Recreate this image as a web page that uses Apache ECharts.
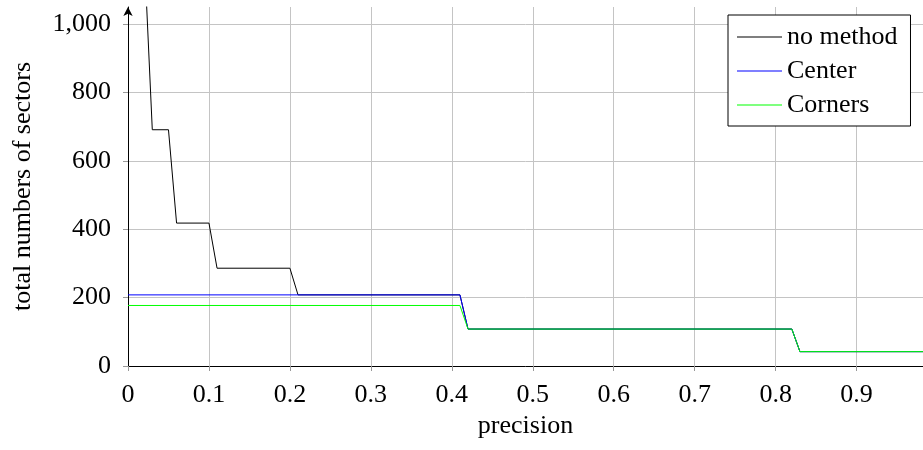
<!DOCTYPE html>
<html>
<head>
<meta charset="utf-8">
<script src="https://cdn.jsdelivr.net/npm/echarts@6/dist/echarts.min.js"></script>
<style>
  html, body { margin: 0; padding: 0; background: #fff; }
  #chart { width: 923px; height: 450px; }
</style>
</head>
<body>
<div id="chart"></div>
<script>
// ---- data ----
var seriesNames = ['no method', 'Center', 'Corners'];

// step corner points: precision values and total numbers of sectors
var noMethodX = [0.02, 0.03, 0.05, 0.06, 0.10, 0.11, 0.20, 0.21, 0.41, 0.42, 0.82, 0.83, 0.99];
var noMethodY = [1210, 691, 691, 418, 418, 286, 286, 208, 208, 108, 108, 42, 42];

var centerX = [0.00, 0.41, 0.42, 0.82, 0.83, 0.99];
var centerY = [208, 208, 108, 108, 42, 42];

var cornersX = [0.00, 0.41, 0.42, 0.82, 0.83, 0.99];
var cornersY = [177, 177, 108, 108, 42, 42];

var xTicks = [0, 0.1, 0.2, 0.3, 0.4, 0.5, 0.6, 0.7, 0.8, 0.9];
var yTicks = [0, 200, 400, 600, 800, 1000];

function pairs(xs, ys) {
  return xs.map(function (x, i) { return [x, ys[i]]; });
}

var FONT = '"Liberation Serif", "DejaVu Serif", serif';
var chart = echarts.init(document.getElementById('chart'), null, { renderer: 'canvas' });

chart.setOption({
  animation: false,
  backgroundColor: '#ffffff',
  grid: { left: 128, right: 0, top: 7, bottom: 84, containLabel: false },
  xAxis: {
    type: 'value',
    min: 0,
    max: 0.982,
    name: 'precision',
    nameLocation: 'middle',
    nameGap: 39,
    nameTextStyle: { fontFamily: FONT, fontSize: 26, color: '#000' },
    axisLine: { show: true, onZero: false, lineStyle: { color: '#000', width: 1 } },
    axisTick: { show: true, length: 5, customValues: xTicks, lineStyle: { color: '#999' } },
    axisLabel: {
      customValues: xTicks,
      margin: 16,
      fontFamily: FONT, fontSize: 26, color: '#000',
      formatter: function (v) { return String(Math.round(v * 10) / 10); }
    },
    splitLine: { show: true, lineStyle: { color: '#c4c4c4', width: 1 } }
  },
  yAxis: {
    type: 'value',
    min: 0,
    max: 1050,
    name: 'total numbers of sectors',
    nameLocation: 'middle',
    nameGap: 92,
    nameTextStyle: { fontFamily: FONT, fontSize: 26, color: '#000' },
    axisLine: { show: true, onZero: false, symbol: ['none', 'arrow'], symbolSize: [7, 9], lineStyle: { color: '#000', width: 1 } },
    axisTick: { show: true, length: 5, customValues: yTicks, lineStyle: { color: '#999' } },
    axisLabel: {
      customValues: yTicks,
      margin: 17,
      fontFamily: FONT, fontSize: 26, color: '#000',
      formatter: function (v) { return String(v).replace(/\B(?=(\d{3})+(?!\d))/g, ','); }
    },
    splitLine: { show: true, lineStyle: { color: '#c4c4c4', width: 1 } }
  },
  legend: {
    data: seriesNames,
    orient: 'vertical',
    left: 728,
    top: 15,
    padding: [9, 13, 8, 9],
    itemGap: 8,
    itemWidth: 45,
    itemHeight: 1,
    icon: 'rect',
    backgroundColor: '#ffffff',
    borderColor: '#000000',
    borderWidth: 1,
    borderRadius: 0,
    textStyle: { fontFamily: FONT, fontSize: 26, color: '#000' }
  },
  series: [
    {
      name: seriesNames[0], type: 'line', symbol: 'none', clip: true,
      data: pairs(noMethodX, noMethodY),
      color: '#000000',
      lineStyle: { color: '#000000', width: 1 }
    },
    {
      name: seriesNames[1], type: 'line', symbol: 'none', clip: true,
      data: pairs(centerX, centerY),
      color: '#0000ff',
      lineStyle: { color: '#0000ff', width: 1 }
    },
    {
      name: seriesNames[2], type: 'line', symbol: 'none', clip: true,
      data: pairs(cornersX, cornersY),
      color: '#00ff00',
      lineStyle: { color: '#00ff00', width: 1 }
    }
  ]
});
</script>
</body>
</html>
